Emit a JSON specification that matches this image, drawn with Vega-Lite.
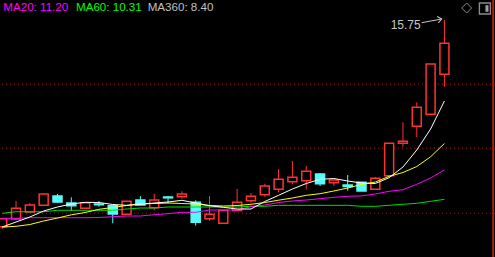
{
  "$schema": "https://vega.github.io/schema/vega-lite/v6.json",
  "width": 495,
  "height": 257,
  "padding": 0,
  "autosize": {"type": "none"},
  "background": "#000000",
  "config": {"view": {"stroke": null}},
  "datasets": {
    "candles": [
      {"i":1,"o":9.482,"h":9.724,"l":9.412,"c":9.724,"ma5":9.473,"ma10":9.473,"ma20":9.736,"ma60":9.888},
      {"i":2,"o":9.715,"h":10.261,"l":9.70,"c":10.039,"ma5":9.624,"ma10":9.494,"ma20":9.736,"ma60":9.936},
      {"i":3,"o":9.927,"h":10.200,"l":9.927,"c":10.139,"ma5":9.776,"ma10":9.548,"ma20":9.755,"ma60":9.936},
      {"i":4,"o":10.130,"h":10.473,"l":10.109,"c":10.473,"ma5":9.958,"ma10":9.655,"ma20":9.755,"ma60":9.936},
      {"i":5,"o":10.412,"h":10.473,"l":10.200,"c":10.230,"ma5":10.079,"ma10":9.745,"ma20":9.755,"ma60":9.979},
      {"i":6,"o":10.200,"h":10.373,"l":9.967,"c":10.118,"ma5":10.170,"ma10":9.842,"ma20":9.755,"ma60":9.979},
      {"i":7,"o":10.039,"h":10.209,"l":10.018,"c":10.209,"ma5":10.221,"ma10":9.912,"ma20":9.755,"ma60":9.979},
      {"i":8,"o":10.170,"h":10.261,"l":10.088,"c":10.148,"ma5":10.215,"ma10":10.009,"ma20":9.761,"ma60":9.979},
      {"i":9,"o":10.118,"h":10.139,"l":9.585,"c":9.867,"ma5":10.155,"ma10":10.064,"ma20":9.785,"ma60":9.979},
      {"i":10,"o":9.858,"h":10.252,"l":9.858,"c":10.252,"ma5":10.130,"ma10":10.124,"ma20":9.806,"ma60":10.018},
      {"i":11,"o":10.291,"h":10.412,"l":10.139,"c":10.139,"ma5":10.155,"ma10":10.185,"ma20":9.806,"ma60":10.048},
      {"i":12,"o":10.058,"h":10.482,"l":9.979,"c":10.291,"ma5":10.200,"ma10":10.185,"ma20":9.845,"ma60":10.048},
      {"i":13,"o":10.382,"h":10.412,"l":10.191,"c":10.358,"ma5":10.230,"ma10":10.200,"ma20":9.876,"ma60":10.079},
      {"i":14,"o":10.391,"h":10.555,"l":10.330,"c":10.473,"ma5":10.282,"ma10":10.185,"ma20":9.918,"ma60":10.079},
      {"i":15,"o":10.221,"h":10.282,"l":9.512,"c":9.615,"ma5":10.200,"ma10":10.170,"ma20":9.918,"ma60":10.079},
      {"i":16,"o":9.724,"h":10.412,"l":9.655,"c":9.858,"ma5":10.118,"ma10":10.124,"ma20":9.988,"ma60":10.079},
      {"i":17,"o":9.585,"h":9.979,"l":9.585,"c":9.979,"ma5":10.070,"ma10":10.109,"ma20":9.988,"ma60":10.079},
      {"i":18,"o":9.973,"h":10.624,"l":9.973,"c":10.221,"ma5":10.018,"ma10":10.124,"ma20":9.988,"ma60":10.079},
      {"i":19,"o":10.270,"h":10.503,"l":10.209,"c":10.403,"ma5":10.018,"ma10":10.161,"ma20":10.088,"ma60":10.100},
      {"i":20,"o":10.452,"h":10.785,"l":10.391,"c":10.715,"ma5":10.245,"ma10":10.215,"ma20":10.139,"ma60":10.100},
      {"i":21,"o":10.615,"h":11.230,"l":10.524,"c":10.918,"ma5":10.433,"ma10":10.285,"ma20":10.215,"ma60":10.130},
      {"i":22,"o":10.845,"h":11.473,"l":10.767,"c":10.979,"ma5":10.624,"ma10":10.352,"ma20":10.261,"ma60":10.130},
      {"i":23,"o":10.876,"h":11.321,"l":10.615,"c":11.161,"ma5":10.791,"ma10":10.433,"ma20":10.291,"ma60":10.130},
      {"i":24,"o":11.079,"h":11.109,"l":10.715,"c":10.785,"ma5":10.918,"ma10":10.482,"ma20":10.330,"ma60":10.130},
      {"i":25,"o":10.815,"h":10.897,"l":10.715,"c":10.897,"ma5":10.942,"ma10":10.564,"ma20":10.373,"ma60":10.130},
      {"i":26,"o":10.745,"h":11.048,"l":10.573,"c":10.700,"ma5":10.867,"ma10":10.655,"ma20":10.403,"ma60":10.130},
      {"i":27,"o":10.827,"h":10.827,"l":10.564,"c":10.564,"ma5":10.806,"ma10":10.761,"ma20":10.415,"ma60":10.100},
      {"i":28,"o":10.615,"h":10.988,"l":10.615,"c":10.949,"ma5":10.791,"ma10":10.836,"ma20":10.473,"ma60":10.100},
      {"i":29,"o":11.027,"h":12.009,"l":11.027,"c":12.009,"ma5":10.967,"ma10":11.009,"ma20":10.555,"ma60":10.130},
      {"i":30,"o":12.009,"h":12.645,"l":11.906,"c":12.070,"ma5":11.291,"ma10":11.124,"ma20":10.603,"ma60":10.161},
      {"i":31,"o":12.524,"h":13.252,"l":12.191,"c":13.100,"ma5":11.806,"ma10":11.306,"ma20":10.767,"ma60":10.191},
      {"i":32,"o":12.888,"h":14.412,"l":12.888,"c":14.412,"ma5":12.442,"ma10":11.600,"ma20":10.958,"ma60":10.252},
      {"i":33,"o":14.100,"h":15.750,"l":13.724,"c":15.039,"ma5":13.291,"ma10":12.003,"ma20":11.200,"ma60":10.310}
    ],
    "grid": [{"p": 9.888}, {"p": 11.867}, {"p": 13.806}]
  },
  "layer": [
    {
      "data": {"name": "grid"},
      "mark": {"type": "rule", "color": "#d00000", "strokeDash": [1, 3], "strokeWidth": 1},
      "encoding": {
        "y": {"field": "p", "type": "quantitative", "scale": {"domain": [8.564, 16.3515], "nice": false, "zero": false, "padding": 0}, "axis": null}
      }
    },
    {
      "data": {"name": "candles"},
      "mark": {"type": "rule", "strokeWidth": 1},
      "encoding": {
        "x": {"field": "i", "type": "quantitative", "scale": {"domain": [0.84, 36.66], "nice": false, "zero": false, "padding": 0}, "axis": null},
        "y": {"field": "l", "type": "quantitative"},
        "y2": {"field": "h"},
        "color": {"condition": {"test": "datum.c >= datum.o", "value": "#ff3232"}, "value": "#54fcfc"}
      }
    },
    {
      "data": {"name": "candles"},
      "mark": {"type": "bar", "width": 9, "strokeWidth": 1.5},
      "encoding": {
        "x": {"field": "i", "type": "quantitative"},
        "y": {"field": "o", "type": "quantitative"},
        "y2": {"field": "c"},
        "fill": {"condition": {"test": "datum.c >= datum.o", "value": "#000000"}, "value": "#54fcfc"},
        "stroke": {"condition": {"test": "datum.c >= datum.o", "value": "#ff3232"}, "value": "#54fcfc"}
      }
    },
    {
      "data": {"name": "candles"},
      "mark": {"type": "line", "color": "#00dd00", "strokeWidth": 1},
      "encoding": {"x": {"field": "i", "type": "quantitative"}, "y": {"field": "ma60", "type": "quantitative"}}
    },
    {
      "data": {"name": "candles"},
      "mark": {"type": "line", "color": "#ff00ff", "strokeWidth": 1},
      "encoding": {"x": {"field": "i", "type": "quantitative"}, "y": {"field": "ma20", "type": "quantitative"}}
    },
    {
      "data": {"name": "candles"},
      "mark": {"type": "line", "color": "#ffff00", "strokeWidth": 1},
      "encoding": {"x": {"field": "i", "type": "quantitative"}, "y": {"field": "ma10", "type": "quantitative"}}
    },
    {
      "data": {"name": "candles"},
      "mark": {"type": "line", "color": "#ffffff", "strokeWidth": 1},
      "encoding": {"x": {"field": "i", "type": "quantitative"}, "y": {"field": "ma5", "type": "quantitative"}}
    },
    {
      "data": {"values": [{}]},
      "mark": {"type": "rule", "color": "#ff2020", "strokeWidth": 1.3},
      "encoding": {"x": {"datum": 36.52, "type": "quantitative"}}
    },
    {
      "data": {"values": [{}]},
      "mark": {"type": "text", "text": "MA20: 11.20", "align": "left", "baseline": "alphabetic", "font": "Liberation Sans", "fontSize": 11.6, "color": "#ff00ff"},
      "encoding": {"x": {"datum": 1.08, "type": "quantitative"}, "y": {"datum": 16.018, "type": "quantitative"}}
    },
    {
      "data": {"values": [{}]},
      "mark": {"type": "text", "text": "MA60: 10.31", "align": "left", "baseline": "alphabetic", "font": "Liberation Sans", "fontSize": 11.6, "color": "#00ff00"},
      "encoding": {"x": {"datum": 6.339, "type": "quantitative"}, "y": {"datum": 16.018, "type": "quantitative"}}
    },
    {
      "data": {"values": [{}]},
      "mark": {"type": "text", "text": "MA360: 8.40", "align": "left", "baseline": "alphabetic", "font": "Liberation Sans", "fontSize": 11.6, "color": "#c0c0c0"},
      "encoding": {"x": {"datum": 11.527, "type": "quantitative"}, "y": {"datum": 16.018, "type": "quantitative"}}
    },
    {
      "data": {"values": [{}]},
      "mark": {"type": "text", "text": "15.75", "align": "left", "baseline": "alphabetic", "font": "Liberation Sans", "fontSize": 12, "color": "#c8c8c8"},
      "encoding": {"x": {"datum": 29.11, "type": "quantitative"}, "y": {"datum": 15.464, "type": "quantitative"}}
    },
    {
      "data": {"values": [{}]},
      "mark": {"type": "rule", "color": "#c8c8c8", "strokeWidth": 1},
      "encoding": {
        "x": {"datum": 31.354, "type": "quantitative"},
        "x2": {"datum": 32.801},
        "y": {"datum": 15.664, "type": "quantitative"},
        "y2": {"datum": 15.776}
      }
    },
    {
      "data": {"values": [{}]},
      "mark": {"type": "point", "shape": "M-1,-0.8L0,0L-1,0.8", "size": 64, "filled": false, "stroke": "#c8c8c8", "strokeWidth": 1, "angle": -10, "opacity": 1},
      "encoding": {"x": {"datum": 32.801, "type": "quantitative"}, "y": {"datum": 15.776, "type": "quantitative"}}
    },
    {
      "data": {"values": [{}]},
      "mark": {"type": "point", "shape": "diamond", "size": 100, "filled": false, "stroke": "#8c8c8c", "strokeWidth": 1, "opacity": 1},
      "encoding": {"x": {"datum": 34.61, "type": "quantitative"}, "y": {"datum": 16.109, "type": "quantitative"}}
    },
    {
      "data": {"values": [{}]},
      "mark": {"type": "point", "shape": "square", "size": 121, "filled": false, "stroke": "#8c8c8c", "strokeWidth": 1.4, "opacity": 1},
      "encoding": {"x": {"datum": 35.93, "type": "quantitative"}, "y": {"datum": 16.094, "type": "quantitative"}}
    },
    {
      "data": {"values": [{}]},
      "mark": {"type": "point", "shape": "M0.1,-0.6L0.65,-0.6L0.65,0.6L0.1,0.6Z", "size": 121, "filled": true, "fill": "#a0a0a0", "strokeWidth": 0, "opacity": 1},
      "encoding": {"x": {"datum": 35.93, "type": "quantitative"}, "y": {"datum": 16.094, "type": "quantitative"}}
    }
  ]
}
